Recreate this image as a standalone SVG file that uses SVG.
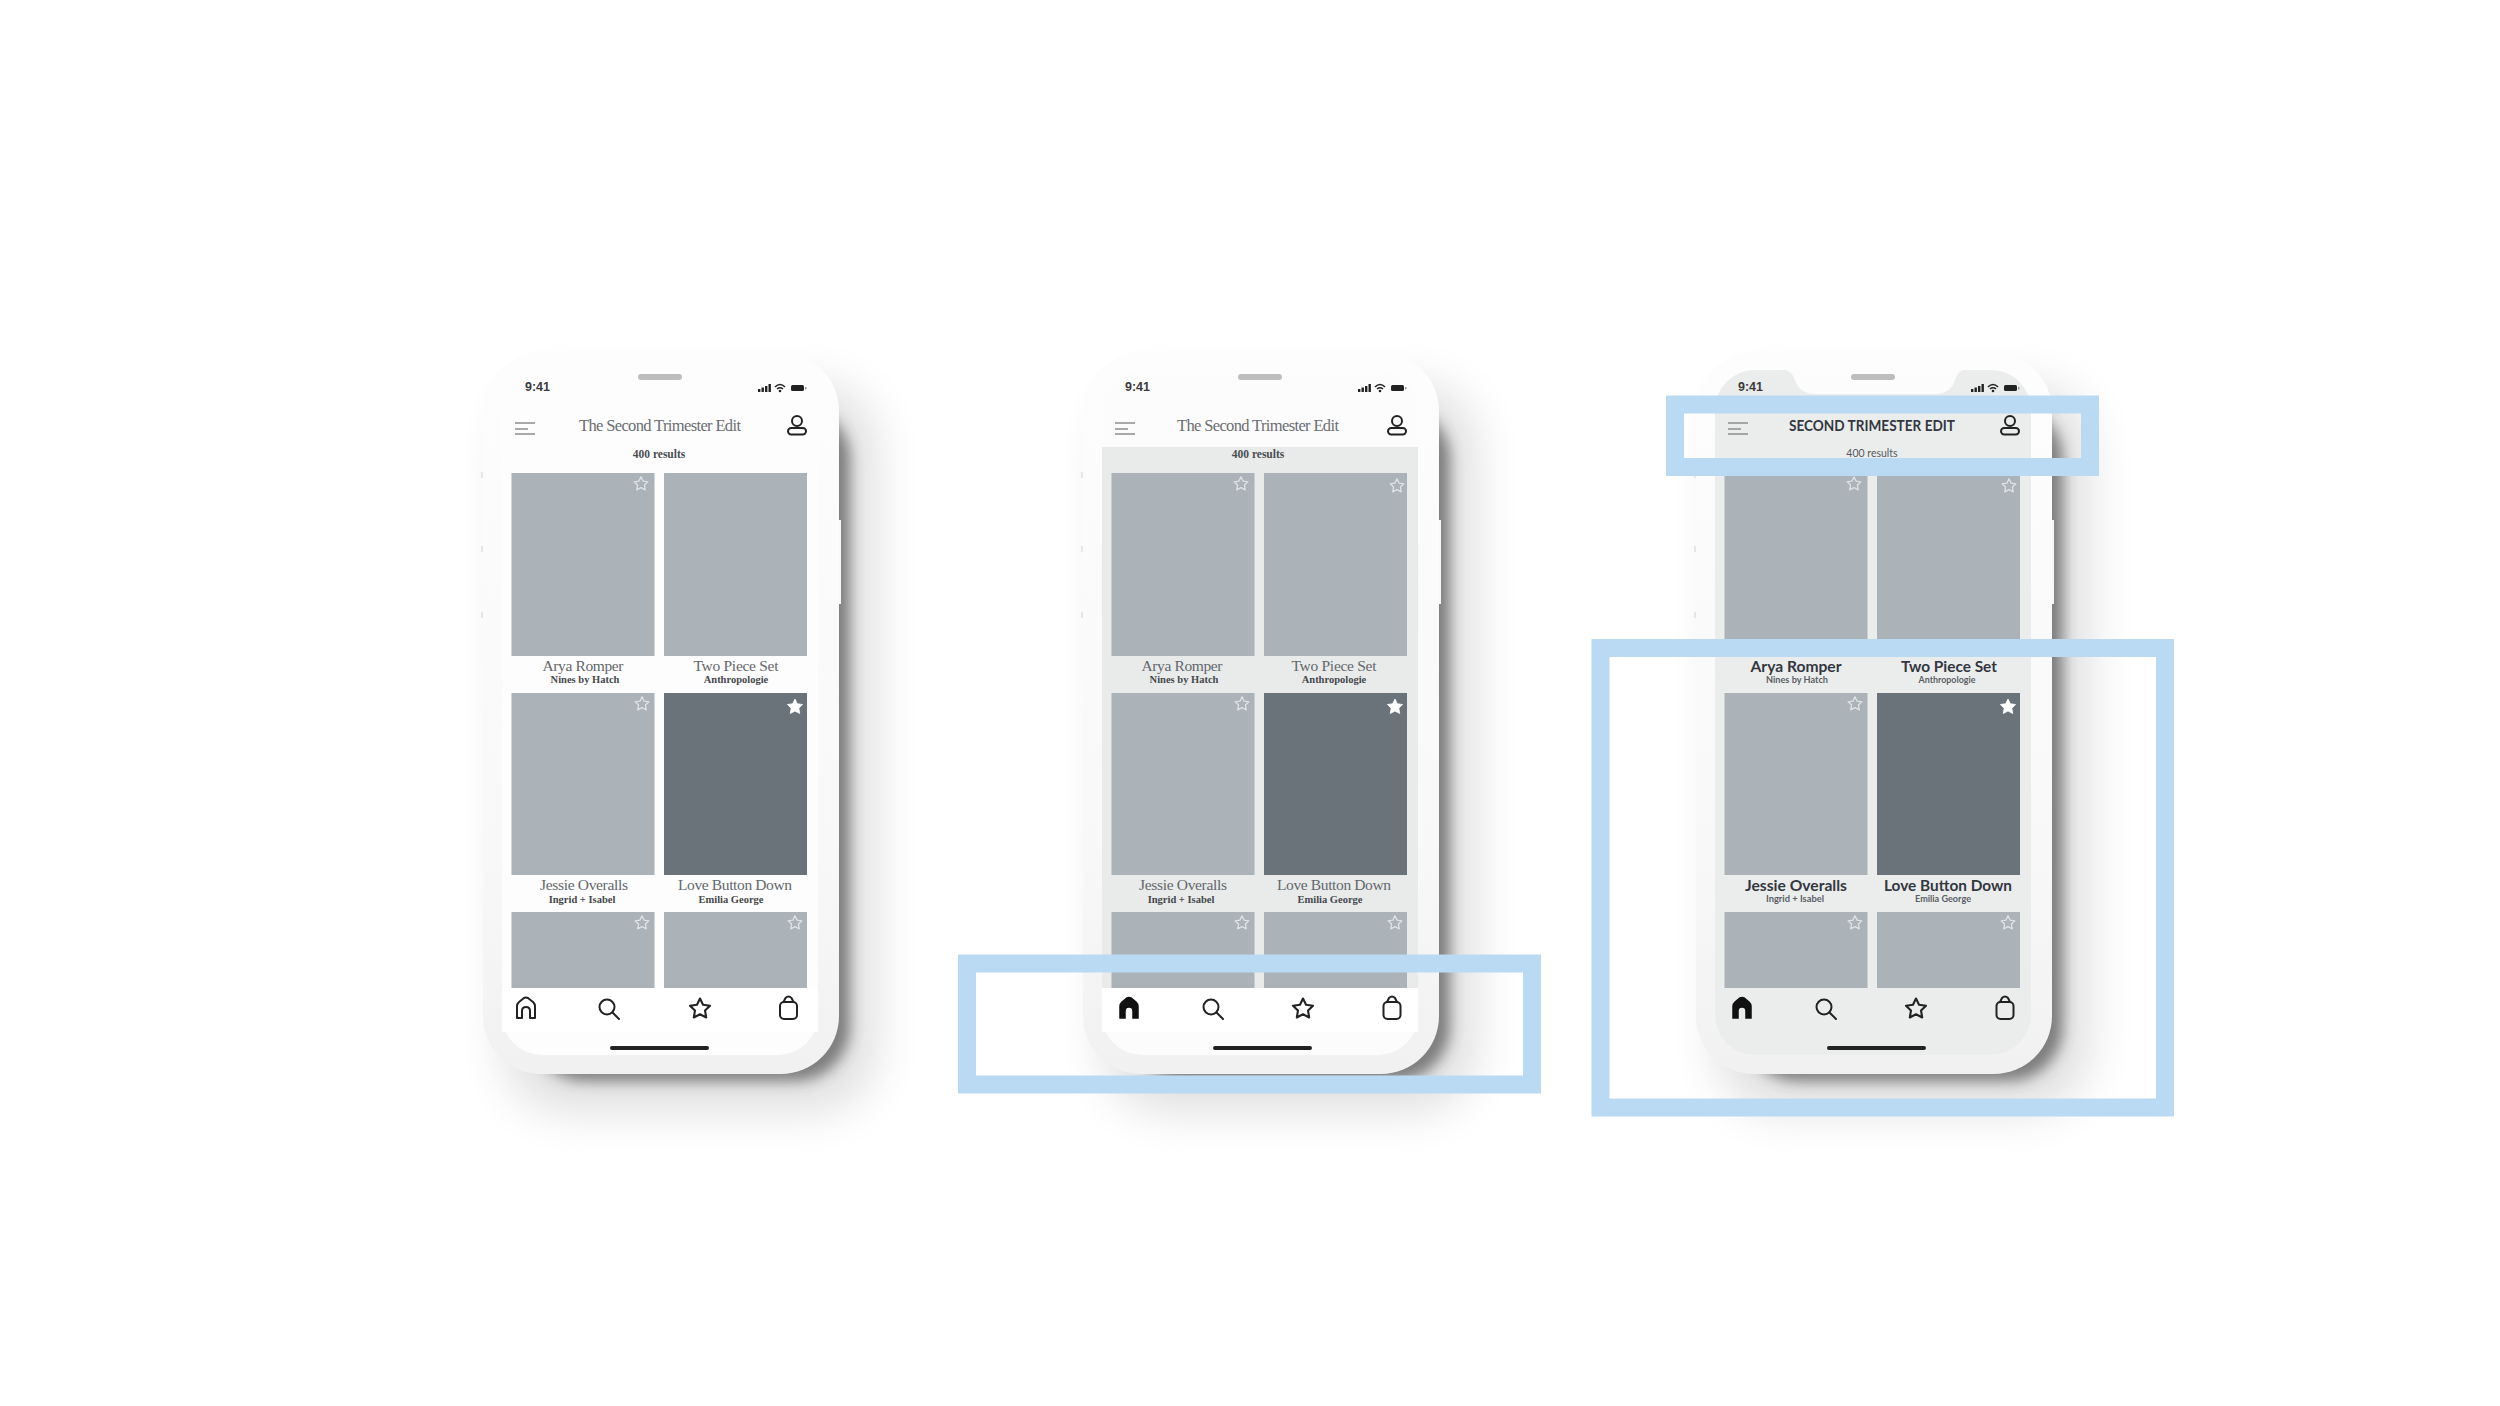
<svg xmlns="http://www.w3.org/2000/svg" xmlns:xlink="http://www.w3.org/1999/xlink" width="2500" height="1406" viewBox="0 0 2500 1406">
<style>
.t1{font:400 16.5px "Liberation Serif",serif;fill:#6a6e72;text-anchor:middle}
.n1{font:400 15.5px "Liberation Serif",serif;fill:#63676b;text-anchor:middle}
.s1{font:700 10.5px "Liberation Serif",serif;fill:#45484b;text-anchor:middle}
.r1{font:700 11.5px "Liberation Serif",serif;fill:#4a4d50;text-anchor:middle}
.t3{font:700 15px "Lato",sans-serif;fill:#33373f;text-anchor:middle}
.n3{font:700 16px "Lato",sans-serif;fill:#33373f;text-anchor:middle}
.s3{font:700 9.5px "Lato",sans-serif;fill:#5a5e64;text-anchor:middle}
.r3{font:400 10.5px "Lato",sans-serif;fill:#54585e;text-anchor:middle}
.clk{font:700 12.5px "Liberation Sans",sans-serif;fill:#3a3a3a}
.tile{fill:#abb2b8}
.dark{fill:#6a727a}
.ln{fill:none;stroke:#222;stroke-width:2;stroke-linecap:round;stroke-linejoin:round}
.mn{stroke:#8d8d8d;stroke-width:1.6;fill:none}
.hl{fill:none;stroke:#b9daf2}
</style>
<defs>
<filter id="b6" x="-20%" y="-20%" width="140%" height="140%"><feGaussianBlur stdDeviation="7"/></filter>
<filter id="b24" x="-30%" y="-30%" width="160%" height="160%"><feGaussianBlur stdDeviation="24"/></filter>
<linearGradient id="bd" x1="0" y1="0" x2="0" y2="1"><stop offset="0" stop-color="#fdfdfd"/><stop offset=".7" stop-color="#f8f8f8"/><stop offset="1" stop-color="#f1f1f1"/></linearGradient>
<polygon id="star" points="0,-10 2.9,-4 9.5,-3.1 4.8,1.5 5.9,8.1 0,5 -5.9,8.1 -4.8,1.5 -9.5,-3.1 -2.9,-4" stroke-linejoin="round"/>
<use id="so" xlink:href="#star" href="#star" transform="scale(.72)" fill="none" stroke="#dde3e6" stroke-width="1.8"/>
<use id="sf" xlink:href="#star" href="#star" transform="scale(.8)" fill="#fff" stroke="#fff" stroke-width="1"/>
<g id="chrome">
<rect x="505" y="385" width="370" height="725" rx="60" fill="#000" opacity=".13" filter="url(#b24)"/>
<rect x="530" y="405" width="320" height="676" rx="55" fill="#3c3c3c" opacity=".6" filter="url(#b6)"/>
<rect x="838" y="520" width="3" height="84" fill="#f8f8f8"/>
<rect x="481" y="472" width="3" height="6" fill="#e6e6e6"/>
<rect x="481" y="546" width="3" height="6" fill="#e6e6e6"/>
<rect x="481" y="612" width="3" height="6" fill="#e6e6e6"/>
<rect x="483" y="353" width="356" height="721" rx="58" fill="url(#bd)"/>
</g>
<g id="tiles">
<rect class="tile" x="511.500" y="473" width="143" height="183"/>
<rect class="tile" x="664" y="473" width="143" height="183"/>
<rect class="tile" x="511.500" y="693" width="143" height="182"/>
<rect class="dark" x="664" y="693" width="143" height="182"/>
<rect class="tile" x="511.500" y="912" width="143" height="76"/>
<rect class="tile" x="664" y="912" width="143" height="76"/>
<use href="#so" transform="translate(641,484)"/>
<use href="#so" transform="translate(642,704)"/>
<use href="#sf" transform="translate(795,707)"/>
<use href="#so" transform="translate(642,923)"/>
<use href="#so" transform="translate(795,923)"/>
</g>
<g id="status">
<rect x="638" y="374" width="44" height="6" rx="3" fill="#bdbdbd"/>
<rect x="758" y="389" width="2.400" height="3" fill="#222"/><rect x="761.500" y="387.500" width="2.400" height="4.500" fill="#222"/><rect x="765" y="386" width="2.400" height="6" fill="#222"/><rect x="768.500" y="384" width="2.400" height="8" fill="#222"/>
<path d="M775 387Q780 382 785 387M777 389Q780 386.500 783 389" fill="none" stroke="#222" stroke-width="1.600"/><circle cx="780" cy="391" r="1.300" fill="#222"/>
<rect x="791" y="385" width="13" height="6" rx="1.500" fill="#222"/><rect x="805" y="387" width="1.500" height="2.500" fill="#999"/>
</g>
<g id="menu"><path class="mn" d="M515 423H535M515 429H528M515 434H535"/></g>
<g id="user"><circle cx="797" cy="421" r="5" class="ln"/><rect x="788" y="428" width="18" height="6.500" rx="3.200" class="ln"/></g>
<path id="home" d="M-9 10V-2Q-9-4-7-6L-2-10Q0-11 2-10L7-6Q9-4 9-2V10H4V3Q4-1 0-1Q-4-1-4 3V10Z"/>
<g id="search"><circle cx="-1" cy="-1" r="7.500" class="ln"/><path class="ln" d="M4.500 4.500L11 11"/></g>
<use id="tstar" href="#star" transform="scale(1.05)" class="ln"/>
<g id="bag"><rect x="-8.500" y="-6" width="17" height="17" rx="4" class="ln"/><path class="ln" d="M-5-6L-3-10Q0-13 3-10L5-6"/></g>
</defs>
<rect width="2500" height="1406" fill="#fff"/>

<g id="phone-1">
<use href="#chrome"/>
<rect x="502" y="370" width="316" height="685" rx="40" fill="#fdfdfd"/>
<rect x="502" y="988" width="316" height="44" fill="#fff"/>
<use href="#tiles"/>
<use href="#status"/><use href="#menu"/><use href="#user"/>
<text class="clk" x="525" y="391">9:41</text>
<text class="t1" x="660" y="431" textLength="162" lengthAdjust="spacing">The Second Trimester Edit</text>
<text class="r1" x="659" y="458">400 results</text>
<text class="n1" x="583" y="671" textLength="81">Arya Romper</text>
<text class="n1" x="736" y="671" textLength="85">Two Piece Set</text>
<text class="s1" x="585" y="683">Nines by Hatch</text>
<text class="s1" x="736" y="683">Anthropologie</text>
<text class="n1" x="584" y="890" textLength="88">Jessie Overalls</text>
<text class="n1" x="735" y="890" textLength="114">Love Button Down</text>
<text class="s1" x="582" y="903">Ingrid + Isabel</text>
<text class="s1" x="731" y="903">Emilia George</text>
<use href="#home" transform="translate(526,1008)" class="ln"/>
<use href="#search" transform="translate(608,1008)"/>
<use href="#tstar" transform="translate(700,1009)"/>
<use href="#bag" transform="translate(788.500,1008)"/>
<rect x="610" y="1046" width="99" height="4" rx="2" fill="#222"/>
</g>

<g id="phone-2" transform="translate(600,0)">
<use href="#chrome"/>
<rect x="502" y="370" width="316" height="685" rx="40" fill="#fcfcfc"/>
<rect x="502" y="447" width="316" height="541" fill="#e9ebeb"/>
<rect x="502" y="988" width="316" height="44" fill="#fff"/>
<use href="#tiles"/>
<use href="#so" transform="translate(797,486)"/>
<use href="#status"/><use href="#menu"/><use href="#user"/>
<text class="clk" x="525" y="391">9:41</text>
<text class="t1" x="658" y="431" textLength="162" lengthAdjust="spacing">The Second Trimester Edit</text>
<text class="r1" x="658" y="458">400 results</text>
<text class="n1" x="582" y="671" textLength="81">Arya Romper</text>
<text class="n1" x="734" y="671" textLength="85">Two Piece Set</text>
<text class="s1" x="584" y="683">Nines by Hatch</text>
<text class="s1" x="734" y="683">Anthropologie</text>
<text class="n1" x="583" y="890" textLength="88">Jessie Overalls</text>
<text class="n1" x="734" y="890" textLength="114">Love Button Down</text>
<text class="s1" x="581" y="903">Ingrid + Isabel</text>
<text class="s1" x="730" y="903">Emilia George</text>
<use href="#home" transform="translate(529,1008)" fill="#111" stroke="#111" stroke-width="1.500"/>
<use href="#search" transform="translate(612,1008)"/>
<use href="#tstar" transform="translate(703,1009)"/>
<use href="#bag" transform="translate(792,1008)"/>
<rect x="613" y="1046" width="99" height="4" rx="2" fill="#222"/>
</g>

<g id="phone-3" transform="translate(1213,0)">
<use href="#chrome"/>
<rect x="502" y="370" width="316" height="685" rx="40" fill="#ebeded"/>
<path d="M570 369Q580 372 582 380Q586 394 604 394H720Q738 394 742 380Q744 372 752 369Z" fill="#fcfcfc"/>
<use href="#tiles"/>
<use href="#so" transform="translate(796,486)"/>
<use href="#status"/><use href="#menu"/><use href="#user"/>
<text class="clk" x="525" y="391">9:41</text>
<text class="t3" x="659" y="431" textLength="166" lengthAdjust="spacingAndGlyphs">SECOND TRIMESTER EDIT</text>
<text class="r3" x="659" y="457">400 results</text>
<text class="n3" x="583" y="672" textLength="91" lengthAdjust="spacingAndGlyphs">Arya Romper</text>
<text class="n3" x="736" y="672" textLength="96" lengthAdjust="spacingAndGlyphs">Two Piece Set</text>
<text class="s3" x="584" y="683" textLength="62" lengthAdjust="spacingAndGlyphs">Nines by Hatch</text>
<text class="s3" x="734" y="683" textLength="57" lengthAdjust="spacingAndGlyphs">Anthropologie</text>
<text class="n3" x="583" y="891" textLength="102" lengthAdjust="spacingAndGlyphs">Jessie Overalls</text>
<text class="n3" x="735" y="891" textLength="128" lengthAdjust="spacingAndGlyphs">Love Button Down</text>
<text class="s3" x="582" y="902" textLength="58" lengthAdjust="spacingAndGlyphs">Ingrid + Isabel</text>
<text class="s3" x="730" y="902" textLength="56" lengthAdjust="spacingAndGlyphs">Emilia George</text>
<use href="#home" transform="translate(529,1008)" fill="#111" stroke="#111" stroke-width="1.500"/>
<use href="#search" transform="translate(612,1008)"/>
<use href="#tstar" transform="translate(703,1009)"/>
<use href="#bag" transform="translate(792,1008)"/>
<rect x="614" y="1046" width="99" height="4" rx="2" fill="#222"/>
</g>

<g id="connectors">
<rect id="highlight-nav" class="hl" x="967" y="963.500" width="565" height="121" stroke-width="18"/>
<rect id="highlight-header" class="hl" x="1675" y="404.500" width="415" height="62.500" stroke-width="18"/>
<rect id="highlight-products" class="hl" x="1600.500" y="648" width="564.500" height="459.500" stroke-width="18"/>
</g>
</svg>
